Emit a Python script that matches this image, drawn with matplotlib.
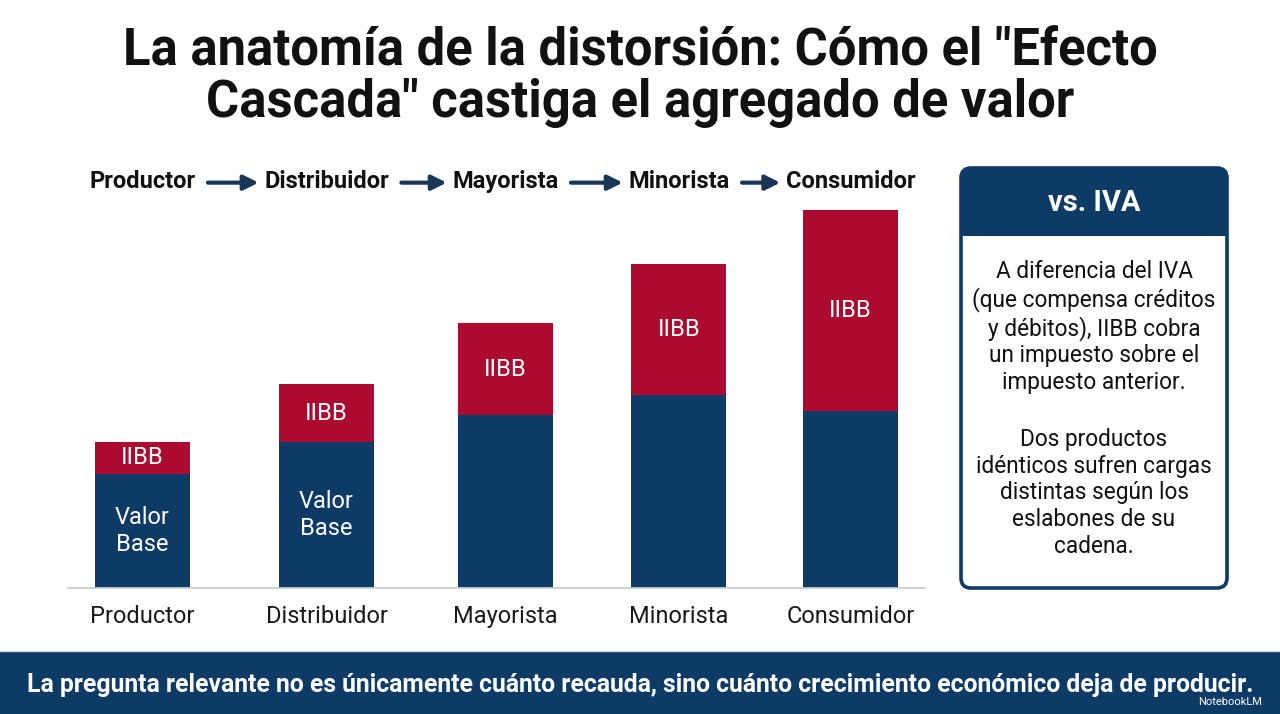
import matplotlib
matplotlib.use("Agg")
import matplotlib.pyplot as plt
from matplotlib.patches import FancyBboxPatch, Rectangle

# data (arbitrary units, baseline = 0)
etapas = ["Productor", "Distribuidor", "Mayorista", "Minorista", "Consumidor"]
valor_base = [114, 146, 173, 193, 177]
iibb = [32, 58, 92, 131, 201]
con_etiqueta_base = [True, True, False, False, False]

titulo = 'La anatomía de la distorsión: Cómo el "Efecto\nCascada" castiga el agregado de valor'
caja_titulo = "vs. IVA"
caja_p1 = "A diferencia del IVA\n(que compensa créditos\ny débitos), IIBB cobra\nun impuesto sobre el\nimpuesto anterior."
caja_p2 = "Dos productos\nidénticos sufren cargas\ndistintas según los\neslabones de su\ncadena."
pie = "La pregunta relevante no es únicamente cuánto recauda, sino cuánto crecimiento económico deja de producir."

# bar slots are not quite evenly spaced in the original
pos = [0, 1.04, 2.05, 3.03, 4.0]

NAVY = "#0e3a66"
RED = "#ad0a30"
DARK = "#111111"

plt.rcParams["font.family"] = ["Roboto", "DejaVu Sans"]

fig = plt.figure(figsize=(12.8, 7.14), dpi=100)
fig.patch.set_facecolor("white")

# overlay in pixel coordinates for the decorations
ov = fig.add_axes([0, 0, 1, 1])
ov.set_xlim(0, 1280)
ov.set_ylim(714, 0)
ov.axis("off")

# bar chart
ax = fig.add_axes([68 / 1280, (714 - 588) / 714, (925 - 68) / 1280, (588 - 200) / 714])
w = 0.537
ax.bar(pos, valor_base, width=w, color=NAVY, zorder=2)
ax.bar(pos, iibb, width=w, bottom=valor_base, color=RED, zorder=2)
ax.set_xlim(-0.42, 4.42)
ax.set_ylim(0, 388)
for s in ["top", "right", "left"]:
    ax.spines[s].set_visible(False)
ax.spines["bottom"].set_color("#c9cdd2")
ax.spines["bottom"].set_linewidth(1.3)
ax.set_yticks([])
ax.set_xticks(pos)
ax.set_xticklabels(etapas, fontsize=17, color="#1a1a1a")
ax.tick_params(axis="x", length=0, pad=12)
ax.patch.set_alpha(0)

for i in range(len(etapas)):
    ax.text(pos[i], valor_base[i] + iibb[i] / 2, "IIBB", ha="center", va="center",
            color="white", fontsize=17)
    if con_etiqueta_base[i]:
        ax.text(pos[i], valor_base[i] / 2, "Valor\nBase", ha="center", va="center",
                color="white", fontsize=17, linespacing=1.2)

# flow row above the bars
trans = matplotlib.transforms.blended_transform_factory(ax.transData, fig.transFigure)
flow = []
for i, e in enumerate(etapas):
    t = ax.text(pos[i], 1 - 188 / 714, e, transform=trans, ha="center", va="baseline",
                fontsize=17, fontweight="bold", color=DARK)
    flow.append(t)
for a, b in zip(flow[:-1], flow[1:]):
    ax.annotate("", xy=(0, 0.45), xycoords=b, xytext=(1, 0.45), textcoords=a,
                arrowprops=dict(arrowstyle="-|>", lw=3, color="#1b3556",
                                shrinkA=9, shrinkB=4, mutation_scale=22))

# title
ov.text(640, 77, titulo, ha="center", va="center", fontsize=36.5, fontweight="bold",
        color=DARK, linespacing=1.05)

# side box
box = FancyBboxPatch((961, 168), 266, 420, boxstyle="round,pad=0,rounding_size=10",
                     facecolor="white", edgecolor=NAVY, linewidth=2.6, zorder=2)
ov.add_patch(box)
head = Rectangle((955, 160), 280, 76, facecolor=NAVY, edgecolor="none", zorder=3)
ov.add_patch(head)
head.set_clip_path(box)
ov.text(1094, 203, caja_titulo, ha="center", va="center", color="white",
        fontsize=21, fontweight="bold", zorder=4)
ov.text(1094, 327, caja_p1, ha="center", va="center", color=DARK, fontsize=16.3,
        linespacing=1.2, zorder=4)
ov.text(1094, 493, caja_p2, ha="center", va="center", color=DARK, fontsize=16.3,
        linespacing=1.2, zorder=4)

# bottom banner
ov.add_patch(Rectangle((0, 651), 1280, 63, facecolor=NAVY, edgecolor="none"))
ov.plot([0, 1280], [651, 651], color="#cfd6de", lw=1)
ov.text(640, 685, pie, ha="center", va="center", color="white", fontsize=17.8,
        fontweight="bold")
ov.text(1262, 702, "NotebookLM", ha="right", va="center", color="white", fontsize=8)

fig.savefig("out.png", dpi=100)
